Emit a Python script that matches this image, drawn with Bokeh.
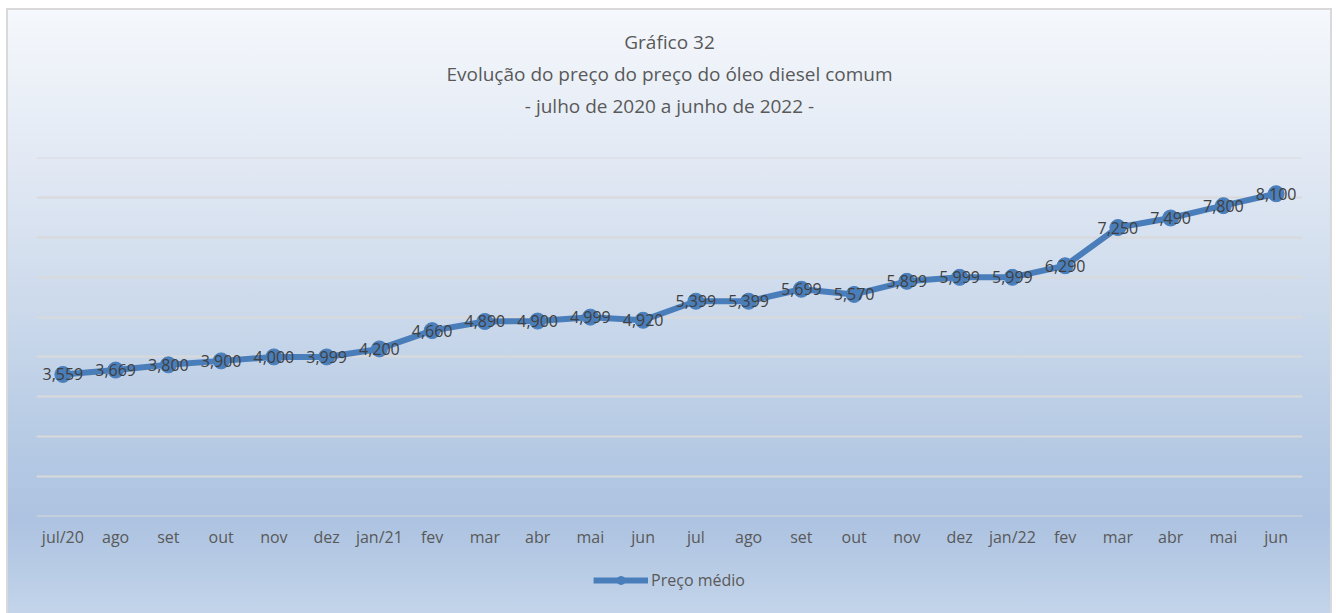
from bokeh.plotting import figure
from bokeh.layouts import column
from bokeh.models import ColumnDataSource, Title, Legend, LegendItem, Range1d
from bokeh.core.properties import value
from bokeh.embed import file_html
from bokeh.resources import INLINE

months = ["jul/20", "ago", "set", "out", "nov", "dez", "jan/21", "fev", "mar",
          "abr", "mai", "jun", "jul", "ago", "set", "out", "nov", "dez",
          "jan/22", "fev", "mar", "abr", "mai", "jun"]
prices = [3.559, 3.669, 3.800, 3.900, 4.000, 3.999, 4.200, 4.660, 4.890,
          4.900, 4.999, 4.920, 5.399, 5.399, 5.699, 5.570, 5.899, 5.999,
          5.999, 6.290, 7.250, 7.490, 7.800, 8.100]
y_ticks = [0, 1, 2, 3, 4, 5, 6, 7, 8, 9]
title_lines = ["Gráfico 32",
               "Evolução do preço do preço do óleo diesel comum",
               "- julho de 2020 a junho de 2022 -"]
series_name = "Preço médio"

idx = list(range(len(months)))
labels = [f"{v:.3f}".replace(".", ",") for v in prices]
src = ColumnDataSource(dict(x=idx, y=prices, lbl=labels))

FONT = "Open Sans"
TXT = "#595959"
LINE = dict(line_color="#4a7ebb", line_width=6)
DOT = dict(size=16, fill_color="#4a7ebb", line_color="#4a7ebb")

p = figure(frame_width=1266, frame_height=359, output_backend="svg", toolbar_location=None,
           x_range=Range1d(-0.5, len(months) - 0.5), y_range=Range1d(-0.01, 9.01),
           title=title_lines[0],
           min_border_left=28, min_border_right=28, min_border_top=147,
           min_border_bottom=37)

p.background_fill_alpha = 0
p.border_fill_alpha = 0
p.outline_line_color = None

p.title.text_font = FONT
p.title.text_font_size = "19px"
p.title.text_font_style = "normal"
p.title.text_color = TXT
p.title.align = "center"
p.title.standoff = 4

# spacer between the last title line and the plot area
p.add_layout(Title(text=" ", text_font=FONT, text_font_size="19px", standoff=9), "above")
for t in [title_lines[2], title_lines[1]]:
    p.add_layout(Title(text=t, align="center", text_font=FONT, text_font_size="19px",
                       text_font_style="normal", text_color=TXT, standoff=4), "above")

p.line("x", "y", source=src, **LINE)
p.scatter("x", "y", source=src, **DOT)
p.text("x", "y", text="lbl", source=src, text_align="center", text_baseline="middle",
       text_font=value(FONT), text_font_size="16px", text_color="#404040")

p.yaxis.visible = False
p.yaxis.ticker = y_ticks
p.ygrid.grid_line_color = "#d9d9d9"
p.ygrid.grid_line_width = 2
p.xgrid.visible = False

p.xaxis.ticker = idx
p.xaxis.major_label_overrides = {i: m for i, m in enumerate(months)}
p.xaxis.axis_line_color = None
p.xaxis.major_tick_line_color = None
p.xaxis.minor_tick_line_color = None
p.xaxis.major_label_text_font = FONT
p.xaxis.major_label_text_font_size = "16px"
p.xaxis.major_label_text_color = TXT
p.xaxis.major_label_standoff = 3

# legend strip below the chart (same series, kept outside its visible ranges)
q = figure(width=1322, height=60, output_backend="svg", toolbar_location=None,
           x_axis_type=None, y_axis_type=None,
           x_range=Range1d(-1000, -999), y_range=Range1d(-1000, -999),
           min_border_left=0, min_border_right=0, min_border_top=0, min_border_bottom=6)
q.background_fill_alpha = 0
q.border_fill_alpha = 0
q.outline_line_color = None
ql = q.line("x", "y", source=src, **LINE)
qd = q.scatter("x", "y", source=src, **DOT)
legend = Legend(items=[LegendItem(label=series_name, renderers=[ql, qd])],
                orientation="horizontal", location="center",
                background_fill_alpha=0, border_line_color=None,
                label_text_font=FONT, label_text_font_size="16px", label_text_color=TXT,
                glyph_width=55, glyph_height=20, label_standoff=3, margin=0, padding=0)
q.add_layout(legend, "center")

layout = column(p, q, spacing=0)
layout.styles = {
    "background-image": "linear-gradient(to bottom, #f5f8fc 0%, #e2e9f4 25%, #cbd9eb 50%, #b3c8e3 75%, #adc3e1 85%, #c3d4ea 100%)",
    "border-left": "2px solid #d9d9d9",
    "border-top": "2px solid #d9d9d9",
    "border-right": "2px solid #d9d9d9",
    "margin-left": "6px",
    "margin-top": "8px",
}

open("out.html", "w").write(file_html(layout, INLINE))
